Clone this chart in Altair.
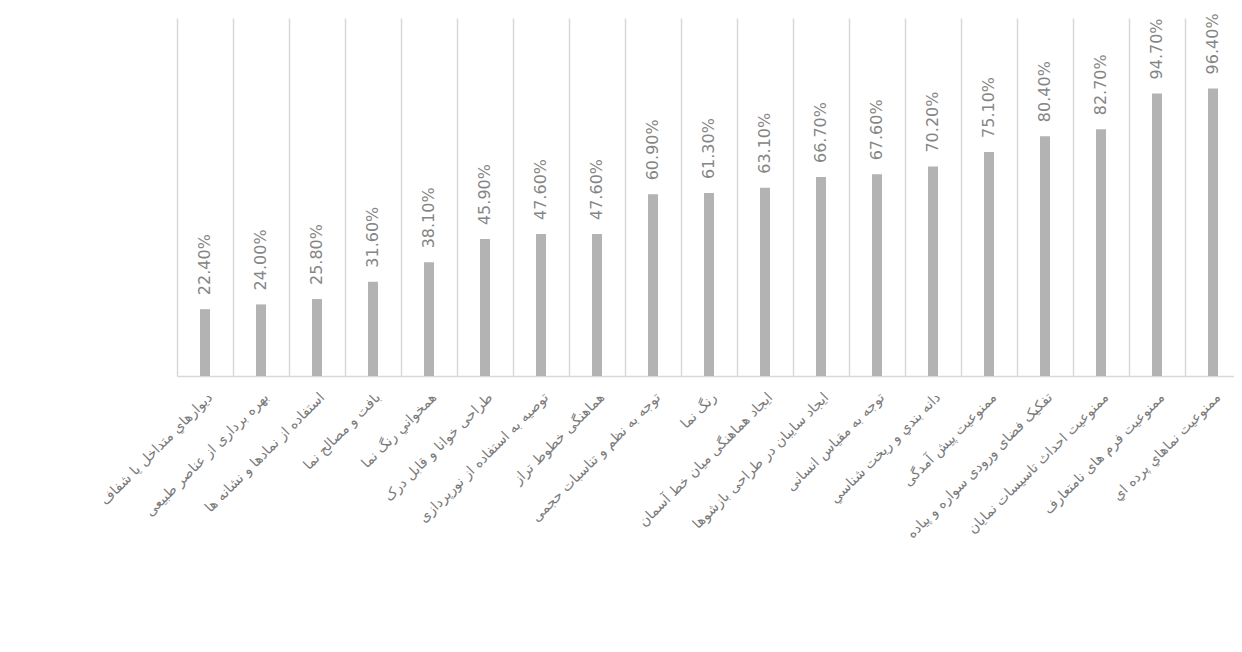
import altair as alt
import pandas as pd

categories = [
    "ديوارهاي متداخل يا شفاف",
    "بهره برداری از عناصر طبیعی",
    "استفاده از نمادها و نشانه ها",
    "بافت و مصالح نما",
    "همخواني رنگ نما",
    "طراحی خوانا و قابل درک",
    "توصیه به استفاده از نورپردازی",
    "هماهنگی خطوط تراز",
    "توجه به نظم و تناسبات حجمی",
    "رنگ نما",
    "ایجاد هماهنگی میان خط آسمان",
    "ایجاد سایبان در طراحی بازشوها",
    "توجه به مقیاس انسانی",
    "دانه بندي و ریخت شناسي",
    "ممنوعیت پیش آمدگی",
    "تفکیک فضای ورودی سواره و پیاده",
    "ممنوعیت احداث تاسیسات نمایان",
    "ممنوعیت فرم های نامتعارف",
    "ممنوعیت نماهاي پرده اي",
]
values = [0.224, 0.240, 0.258, 0.316, 0.381, 0.459, 0.476, 0.476, 0.609, 0.613,
          0.631, 0.667, 0.676, 0.702, 0.751, 0.804, 0.827, 0.947, 0.964]

df = pd.DataFrame({"cat": categories, "val": values})
df["label"] = [f"{v * 100:.2f}%" for v in values]

x_enc = alt.X(
    "cat:N",
    sort=None,
    title=None,
    scale=alt.Scale(paddingInner=0, paddingOuter=0),
    axis=alt.Axis(
        labelAngle=-45,
        labelFont="DejaVu Sans",
        labelFontSize=14,
        labelColor="#7a7a7a",
        labelPadding=14,
        labelLimit=500,
        ticks=False,
        grid=True,
        tickBand="extent",
        gridColor="#d9d9d9",
        gridWidth=1.5,
        domainColor="#d9d9d9",
        domainWidth=1.5,
    ),
)
y_enc = alt.Y("val:Q", scale=alt.Scale(domain=[0, 1.2]), axis=None)

bars = alt.Chart(df).mark_bar(color="#b3b3b3", size=10).encode(x=x_enc, y=y_enc)
text = alt.Chart(df).mark_text(
    angle=270, align="left", baseline="middle", dx=14,
    font="DejaVu Sans", fontSize=16, color="#858585"
).encode(x=alt.X("cat:N", sort=None), y="val:Q", text="label:N")

chart = (bars + text).properties(
    width=1064,
    height=358,
    background="white",
    autosize=alt.AutoSizeParams(type="none"),
    padding={"left": 169, "top": 10, "right": -7, "bottom": 266},
).configure_view(stroke=None)

chart.save("out.html", embed_options={"renderer": "svg", "actions": False})
